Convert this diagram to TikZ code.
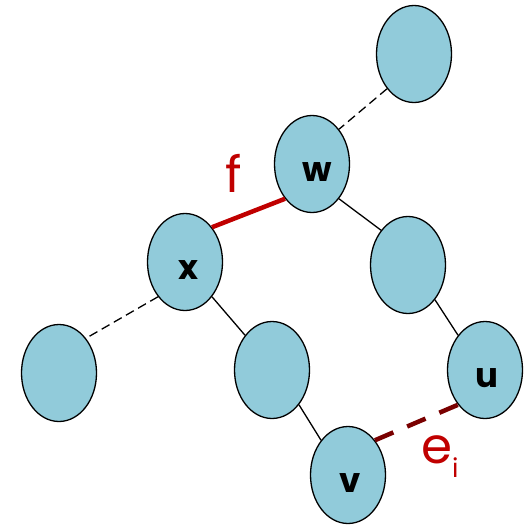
\documentclass[tikz,border=0pt]{standalone}
\usepackage{fontspec}
\setmainfont{Poppins}
\usepackage{tikz}
\usetikzlibrary{shapes.geometric}
\definecolor{nodeblue}{RGB}{145,203,218}
\definecolor{fred}{RGB}{192,0,0}
\definecolor{edark}{RGB}{122,0,0}

\begin{document}
\begin{tikzpicture}[x=1pt,y=-1pt,
  vert/.style={draw, ellipse, fill=nodeblue, line width=1.3pt, minimum width=75pt, minimum height=97pt,
               inner sep=0pt, font=\fontsize{34}{34}\selectfont\bfseries, text height=34pt, text depth=0pt},
  tree/.style={line width=1.3pt},
  back/.style={line width=1.3pt, dash pattern=on 9pt off 5pt},
  cut/.style={line width=4.5pt, color=fred},
  swap/.style={line width=4.5pt, color=edark, dash pattern=on 20pt off 15pt},
  lab/.style={font=\fontsize{50}{50}\selectfont, text=fred, inner sep=0pt}]

  \useasboundingbox (0,0) rectangle (530,525);

  %% Tree nodes
  \node[vert] (t)  at (414,54)  {};
  \node[vert] (w)  at (312,164) {\hspace{10pt}w};
  \node[vert] (x)  at (185,262) {\hspace{6pt}x};
  \node[vert] (wr) at (408,265) {};
  \node[vert] (xl) at (59,373)  {};
  \node[vert] (xr) at (272,370) {};
  \node[vert] (u)  at (485,370) {\hspace{4pt}u};
  \node[vert] (v)  at (348,475) {\hspace{4pt}v};

  %% Edges
  \draw[back] (t.south west) -- (w.north east);
  \draw[cut]  (w.south west) -- (x.north east);
  \draw[tree] (w.south east) -- (wr.north west);
  \draw[back] (x.south west) -- (xl.north east);
  \draw[tree] (x.south east) -- (xr.north west);
  \draw[tree] (xr.south east) -- (v.north west);
  \draw[tree] (wr.south east) -- (u.north west);
  \draw[swap] (v.north east) -- (u.south west);

  %% Labels
  \node[lab] (f) at (234,173) {f};
  \node[lab, anchor=base west] (ei) at (421,463) {e\raisebox{-14pt}{\fontsize{26}{26}\selectfont i}};
\end{tikzpicture}
\end{document}
